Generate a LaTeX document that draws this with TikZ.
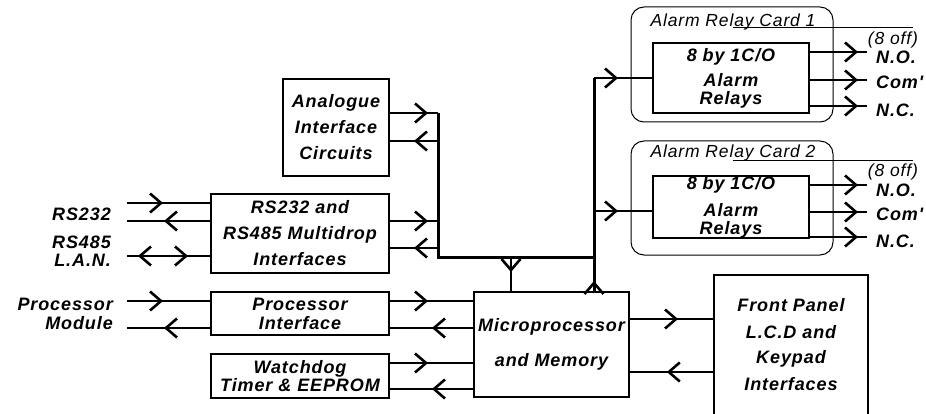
\documentclass[tikz,border=0pt]{standalone}
\usepackage{fontspec}
\setmainfont{Liberation Sans}
\newfontfamily\diafont[LetterSpace=5]{Liberation Sans}
\usetikzlibrary{arrows.meta, decorations.markings}

\tikzset{
  barb/.tip={Straight Barb[length=11pt,width=19pt,line width=2.6pt]},
  txt/.style={font=\diafont\fontsize{18}{18}\selectfont\bfseries\itshape, align=center, inner sep=0pt},
  cardtxt/.style={font=\diafont\fontsize{17.5}{18}\selectfont\itshape, inner sep=0pt},
  blk/.style={txt, draw, line width=2pt},
  card/.style={draw, line width=1pt, rounded corners=13pt, inner sep=0pt},
  flow/.style={line width=2pt, postaction={decorate, decoration={markings,
      mark=at position #1 with {\arrow{barb}}}}},
  twoway/.style 2 args={line width=2pt, postaction={decorate, decoration={markings,
      mark=at position #1 with {\arrowreversed{barb}},
      mark=at position #2 with {\arrow{barb}}}}},
  bus/.style={line width=3pt},
}

\begin{document}
\begin{tikzpicture}[x=1pt, y=-1pt]
  \useasboundingbox (0,0) rectangle (926,414);

  % blocks
  \node[blk, minimum width=106pt, minimum height=97pt] (ana) at (336,127.5) {Analogue\\[8pt]Interface\\[8pt]Circuits};
  \node[blk, minimum width=178pt, minimum height=79pt] (rs) at (300,233.5) {RS232 and\\[8pt]RS485 Multidrop\\[8pt]Interfaces};
  \node[blk, minimum width=178pt, minimum height=43pt] (pif) at (300,313.5) {Processor\\[1pt]Interface};
  \node[blk, minimum width=178pt, minimum height=44pt] (wd) at (300,376) {Watchdog\\Timer \& EEPROM};
  \node[blk, minimum width=155pt, minimum height=105pt] (mic) at (551.5,344.5) {Microprocessor\\[17pt]and Memory};
  \node[txt, minimum width=154pt, minimum height=139pt] (fp) at (791,344.5) {Front Panel\\[9pt]L.C.D and\\[7pt]Keypad\\[9pt]Interfaces};
  \draw[line width=2pt] (fp.south west) -- (fp.north west) -- (fp.north east) -- (fp.south east);

  % relay cards
  \node[card, minimum width=202pt, minimum height=115pt] (card1) at (732,64.5) {};
  \node[cardtxt] (ttl1) at (733,22) {Alarm Relay Card 1};
  \draw[line width=0.8pt] (733,27) -- (913,27);
  \node[blk, minimum width=156pt, minimum height=70pt] (r1) at (731,78) {8 by 1C/O\\[7pt]Alarm\\Relays};
  \node[card, minimum width=202pt, minimum height=114pt] (card2) at (732,198) {};
  \node[cardtxt] (ttl2) at (733,153) {Alarm Relay Card 2};
  \draw[line width=0.8pt] (733,160) -- (913,160);
  \node[blk, minimum width=156pt, minimum height=60pt] (r2) at (731,207) {8 by 1C/O\\[9pt]Alarm\\Relays};

  % labels
  \node[txt, anchor=east] (l232) at (111,214) {RS232};
  \node[txt, anchor=east, align=right] (l485) at (111,251) {RS485\\L.A.N.};
  \node[txt, anchor=east, align=right] (lpm) at (113,313.5) {Processor\\[1pt]Module};
  \node[cardtxt] (off1) at (893,40) {(8 off)};
  \node[txt, anchor=west] (no1) at (876,57) {N.O.};
  \node[txt, anchor=west] (com1) at (876,82) {Com'};
  \node[txt, anchor=west] (nc1) at (876,110) {N.C.};
  \node[cardtxt] (off2) at (893,172) {(8 off)};
  \node[txt, anchor=west] (no2) at (876,190) {N.O.};
  \node[txt, anchor=west] (com2) at (876,214) {Com'};
  \node[txt, anchor=west] (nc2) at (876,241) {N.C.};

  % bus
  \coordinate (leftEnd) at (127,0);
  \coordinate (outEnd) at (867,0);
  \coordinate (busTop) at (438,113);
  \coordinate (busLow) at (438,257);
  \coordinate (busJoin) at (594,257);
  \coordinate (mainTop) at (594,78);
  \draw[bus] (busTop) -- (busLow) -- (busJoin);

  % connectors
  \draw[flow=36pt] ([yshift=30.5pt]rs.west -| leftEnd) -- ([yshift=30.5pt]rs.west);
  \draw[flow=46pt] ([yshift=12.5pt]rs.west) -- ([yshift=12.5pt]rs.west -| leftEnd);
  \draw[twoway={11pt}{61pt}] ([yshift=-22.5pt]rs.west -| leftEnd) -- ([yshift=-22.5pt]rs.west);
  \draw[flow=36pt] ([yshift=12.5pt]pif.west -| leftEnd) -- ([yshift=12.5pt]pif.west);
  \draw[flow=46pt] ([yshift=-14.5pt]pif.west) -- ([yshift=-14.5pt]pif.west -| leftEnd);

  \draw[flow=38pt] ([yshift=14.5pt]ana.east) -- (busTop);
  \draw[flow=24pt] ([yshift=-13.5pt]ana.east -| busTop) -- ([yshift=-13.5pt]ana.east);
  \draw[flow=38pt] ([yshift=12.5pt]rs.east) -- ([yshift=12.5pt]rs.east -| busTop);
  \draw[flow=24pt] ([yshift=-14.5pt]rs.east -| busTop) -- ([yshift=-14.5pt]rs.east);

  \draw[flow=38pt] ([yshift=12.5pt]pif.east) -- ([yshift=12.5pt]pif.east -| mic.west);
  \draw[flow=41pt] ([yshift=-14.5pt]pif.east -| mic.west) -- ([yshift=-14.5pt]pif.east);
  \draw[flow=38pt] ([yshift=13pt]wd.east) -- ([yshift=13pt]wd.east -| mic.west);
  \draw[flow=41pt] ([yshift=-13pt]wd.east -| mic.west) -- ([yshift=-13pt]wd.east);

  \draw[flow=15pt] ([xshift=-40.5pt]mic.north |- busLow) -- ([xshift=-40.5pt]mic.north);
  \draw[bus, postaction={decorate, decoration={markings, mark=at position 10pt with {\arrow{barb}}}}]
    ([xshift=42.5pt]mic.north) -- (mainTop);

  \draw[flow=48pt] ([yshift=25.5pt]mic.east) -- ([yshift=25.5pt]fp.west);
  \draw[flow=47pt] ([yshift=-27.5pt]fp.west) -- ([yshift=-27.5pt]mic.east);

  \draw[flow=24pt] (mainTop) -- (mainTop -| r1.west);
  \draw[flow=24pt] ([yshift=-4pt]r2.west -| mainTop) -- ([yshift=-4pt]r2.west);
  \foreach \s in {26,-2,-28}
    \draw[flow=48pt] ([yshift=\s pt]r1.east) -- ([yshift=\s pt]r1.east -| outEnd);
  \foreach \s in {22,-5,-30}
    \draw[flow=48pt] ([yshift=\s pt]r2.east) -- ([yshift=\s pt]r2.east -| outEnd);
\end{tikzpicture}
\end{document}
